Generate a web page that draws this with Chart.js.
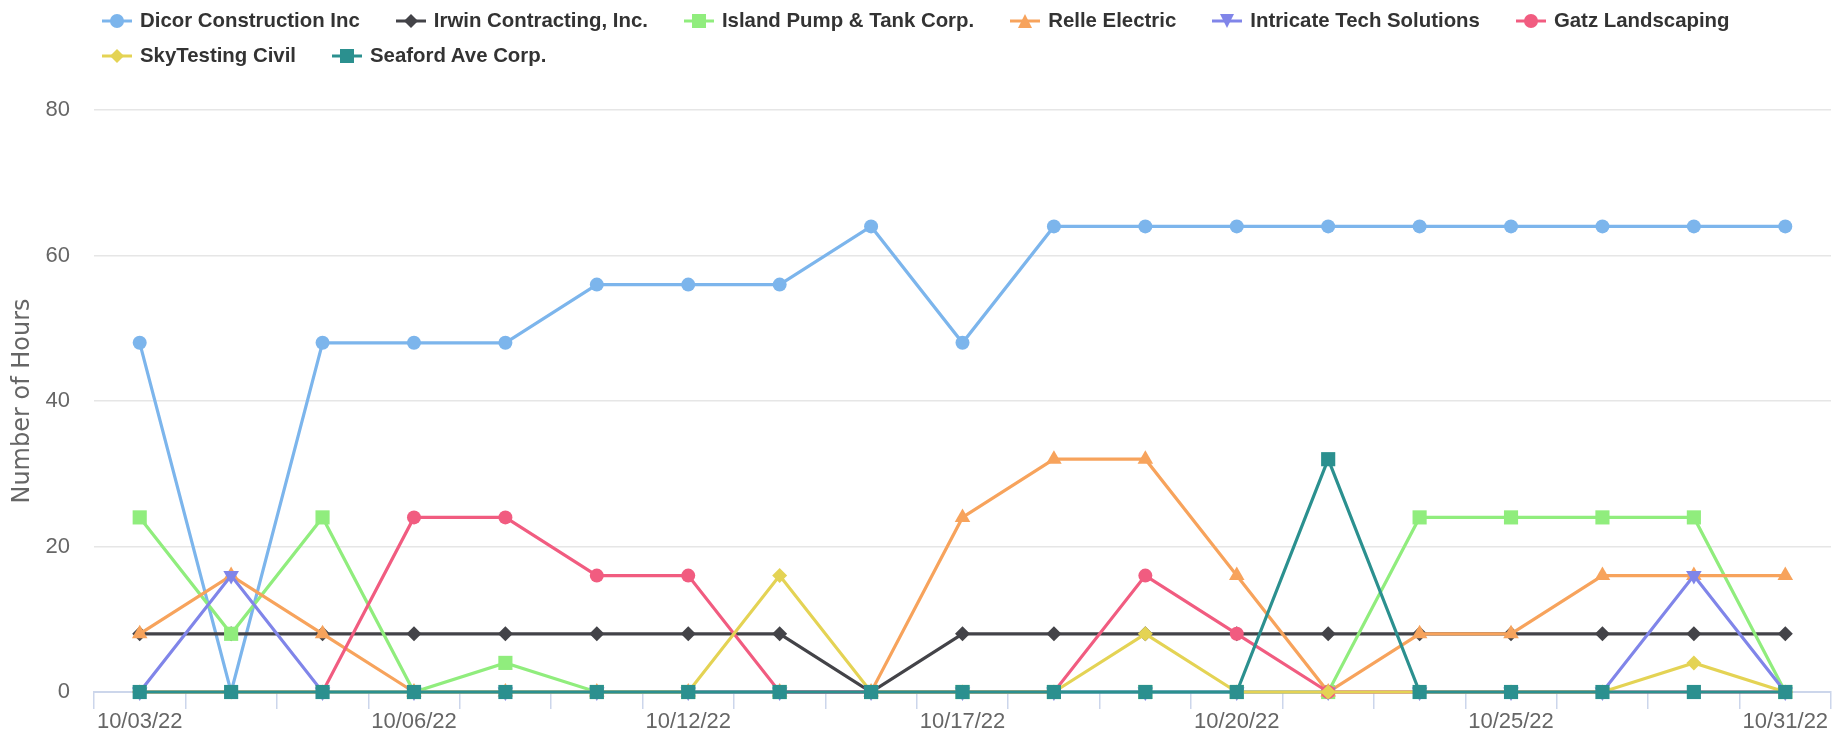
<!DOCTYPE html>
<html>
<head>
<meta charset="utf-8">
<title>Hours by contractor</title>
<script src="https://cdn.jsdelivr.net/npm/chart.js@4.4.0/dist/chart.umd.min.js"></script>
<style>
  html, body { margin: 0; padding: 0; background: #fff; }
  #wrap { position: relative; width: 1844px; height: 737px; }
  #legend {
    position: absolute; top: 3px; left: 102px; width: 1700px;
    display: flex; flex-wrap: wrap;
    font-family: "Liberation Sans", Arial, sans-serif;
    font-weight: bold; font-size: 20.4px; color: #333;
  }
  .item { display: flex; align-items: center; height: 35px; margin-right: 36px; white-space: nowrap; }
  .item svg { margin-right: 8px; }
  canvas { position: absolute; top: 0; left: 0; }
</style>
</head>
<body>
<div id="wrap">
  <canvas id="chartHours" width="1844" height="737"></canvas>
  <div id="legend"></div>
</div>
<script>
// categorias (solo se ven una de cada tres)
const labels = ["10/03/22", "10/04/22", "10/05/22", "10/06/22", "10/07/22", "10/11/22", "10/12/22",
  "10/13/22", "10/14/22", "10/17/22", "10/18/22", "10/19/22", "10/20/22", "10/21/22",
  "10/24/22", "10/25/22", "10/26/22", "10/27/22", "10/31/22"];

const seriesNames = ["Dicor Construction Inc", "Irwin Contracting, Inc.", "Island Pump & Tank Corp.",
  "Relle Electric", "Intricate Tech Solutions", "Gatz Landscaping", "SkyTesting Civil", "Seaford Ave Corp."];

// horas por contratista
const dicor     = [48, 0, 48, 48, 48, 56, 56, 56, 64, 48, 64, 64, 64, 64, 64, 64, 64, 64, 64];
const irwin     = [8, 8, 8, 8, 8, 8, 8, 8, 0, 8, 8, 8, 8, 8, 8, 8, 8, 8, 8];
const island    = [24, 8, 24, 0, 4, 0, 0, 0, 0, 0, 0, 0, 0, 0, 24, 24, 24, 24, 0];
const relle     = [8, 16, 8, 0, 0, 0, 0, 0, 0, 24, 32, 32, 16, 0, 8, 8, 16, 16, 16];
const intricate = [0, 16, 0, 0, 0, 0, 0, 0, 0, 0, 0, 0, 0, 0, 0, 0, 0, 16, 0];
const gatz      = [0, 0, 0, 24, 24, 16, 16, 0, 0, 0, 0, 16, 8, 0, 0, 0, 0, 0, 0];
const skyTest   = [0, 0, 0, 0, 0, 0, 0, 16, 0, 0, 0, 8, 0, 0, 0, 0, 0, 4, 0];
const seaford   = [0, 0, 0, 0, 0, 0, 0, 0, 0, 0, 0, 0, 0, 32, 0, 0, 0, 0, 0];

const yTicks = [0, 20, 40, 60, 80];

const seriesData = [dicor, irwin, island, relle, intricate, gatz, skyTest, seaford];
const colors = ["#7cb5ec", "#434348", "#90ed7d", "#f7a35c", "#8085e9", "#f15c80", "#e4d354", "#2b908f"];
const markers = ["circle", "diamond", "square", "triangle", "triangle-down", "circle", "diamond", "square"];

const textColor = "#666666";
const gridColor = "#e6e6e6";
const axisColor = "#ccd6eb";

function markerStyle(m) {
  if (m === "circle") return { pointStyle: "circle", radius: 7, rotation: 0 };
  if (m === "diamond") return { pointStyle: "rectRot", radius: 7.5, rotation: 0 };
  if (m === "square") return { pointStyle: "rect", radius: 10, rotation: 0 };
  if (m === "triangle") return { pointStyle: "triangle", radius: 9, rotation: 0 };
  return { pointStyle: "triangle", radius: 9, rotation: 180 };
}

const datasets = seriesNames.map((name, i) => {
  const ms = markerStyle(markers[i]);
  return {
    label: name,
    data: seriesData[i],
    borderColor: colors[i],
    backgroundColor: colors[i],
    borderWidth: 3.2,
    tension: 0,
    clip: false,
    pointStyle: ms.pointStyle,
    pointRadius: ms.radius,
    pointRotation: ms.rotation,
    pointBackgroundColor: colors[i],
    pointBorderWidth: 0,
    pointHoverRadius: ms.radius,
    order: seriesNames.length - i,
  };
});

new Chart(document.getElementById("chartHours").getContext("2d"), {
  type: "line",
  data: { labels: labels, datasets: datasets },
  options: {
    responsive: false,
    animation: false,
    layout: { padding: { top: 110, right: 13, left: 0, bottom: 0 } },
    plugins: {
      legend: { display: false },
      tooltip: { enabled: false },
    },
    scales: {
      x: {
        offset: true,
        border: { display: true, color: axisColor, width: 2 },
        grid: {
          offset: true,
          drawOnChartArea: false,
          drawTicks: true,
          tickLength: 17,
          color: axisColor,
          lineWidth: 1.5,
        },
        ticks: {
          autoSkip: false,
          maxRotation: 0,
          padding: 0,
          color: textColor,
          font: { family: "Liberation Sans", size: 22 },
          callback: function (value, index) {
            return index % 3 === 0 ? this.getLabelForValue(value) : "";
          },
        },
        afterFit: (scale) => { scale.height = 45; },
      },
      y: {
        min: yTicks[0],
        max: yTicks[yTicks.length - 1],
        border: { display: false },
        grid: { color: gridColor, lineWidth: 1.5, drawTicks: false },
        ticks: {
          stepSize: yTicks[1] - yTicks[0],
          padding: 24,
          color: textColor,
          font: { family: "Liberation Sans", size: 22 },
        },
        title: {
          display: true,
          text: "Number of Hours",
          color: textColor,
          padding: { top: 8, bottom: 0 },
          font: { family: "DejaVu Sans", size: 24, weight: "normal" },
        },
        afterFit: (scale) => { scale.width = 94; },
      },
    },
  },
});

// ===== LEYENDA =====
function legendIcon(color, m) {
  let shape = "";
  if (m === "circle") shape = `<circle cx="15" cy="9" r="7" fill="${color}"/>`;
  else if (m === "diamond") shape = `<path d="M15 2 L22 9 L15 16 L8 9 Z" fill="${color}"/>`;
  else if (m === "square") shape = `<rect x="8" y="2" width="14" height="14" fill="${color}"/>`;
  else if (m === "triangle") shape = `<path d="M15 2 L22 16 L8 16 Z" fill="${color}"/>`;
  else shape = `<path d="M8 2 L22 2 L15 16 Z" fill="${color}"/>`;
  return `<svg width="30" height="18" viewBox="0 0 30 18"><line x1="0" y1="9" x2="30" y2="9" stroke="${color}" stroke-width="3"/>${shape}</svg>`;
}

const legendEl = document.getElementById("legend");
seriesNames.forEach((name, i) => {
  const item = document.createElement("div");
  item.className = "item";
  item.innerHTML = legendIcon(colors[i], markers[i]);
  const span = document.createElement("span");
  span.textContent = name;
  item.appendChild(span);
  legendEl.appendChild(item);
});
</script>
</body>
</html>
